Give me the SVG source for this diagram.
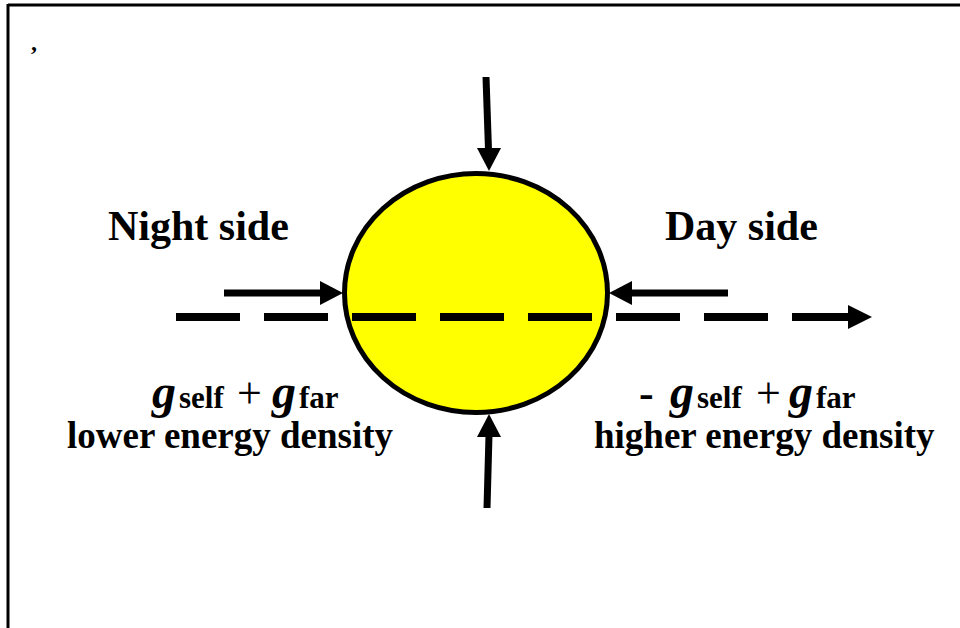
<svg xmlns="http://www.w3.org/2000/svg" width="960" height="628" viewBox="0 0 960 628">
<style>
.t{font-family:"Liberation Serif","Times New Roman",serif;font-weight:bold;fill:#000}
.gi{font-style:italic;font-size:48px}
.sub{font-size:31px}
.pl{font-weight:normal;font-size:44px}
.ln{stroke:#000;stroke-width:7;fill:none}
.hd{fill:#000}
</style>
<rect x="0" y="0" width="960" height="628" fill="#fff"/>
<g id="frame">
<line x1="8" y1="5" x2="960" y2="5" stroke="#000" stroke-width="3"/>
<line x1="8" y1="4" x2="8" y2="628" stroke="#000" stroke-width="3"/>
</g>
<text class="t" x="31" y="50" style="font-size:24px">,</text>
<g id="planet">
<ellipse cx="476" cy="293" rx="131.5" ry="119.5" fill="#ffff00" stroke="#000" stroke-width="5"/>
</g>
<g id="connectors">
<line x1="176" y1="317" x2="850" y2="317" stroke="#000" stroke-width="8" stroke-dasharray="64 24"/>
<polygon class="hd" points="848,305 872,317 848,329"/>
<line class="ln" x1="224" y1="293" x2="322" y2="293"/>
<polygon class="hd" points="320,281 343,293 320,305"/>
<line class="ln" x1="728" y1="293" x2="630" y2="293"/>
<polygon class="hd" points="632,281 609,293 632,305"/>
<line class="ln" x1="486" y1="77" x2="488.5" y2="150"/>
<polygon class="hd" points="477,148 501,148 489,171"/>
<line class="ln" x1="487" y1="508" x2="489" y2="435"/>
<polygon class="hd" points="477,437 501,437 489,414"/>
</g>
<g id="night">
<text class="t" x="108" y="240" style="font-size:42px">Night side</text>
<text class="t" y="408"><tspan class="gi" x="152">g</tspan><tspan class="sub" x="179">self</tspan><tspan class="pl" x="237">+</tspan><tspan class="gi" x="272">g</tspan><tspan class="sub" x="299">far</tspan></text>
<text class="t" x="67" y="448" style="font-size:37px">lower energy density</text>
</g>
<g id="day">
<text class="t" x="665" y="240" style="font-size:42px">Day side</text>
<text class="t" y="408"><tspan x="639" style="font-size:44px">-</tspan><tspan class="gi" x="670">g</tspan><tspan class="sub" x="697">self</tspan><tspan class="pl" x="756">+</tspan><tspan class="gi" x="789">g</tspan><tspan class="sub" x="816">far</tspan></text>
<text class="t" x="594" y="448" style="font-size:37px">higher energy density</text>
</g>
</svg>
